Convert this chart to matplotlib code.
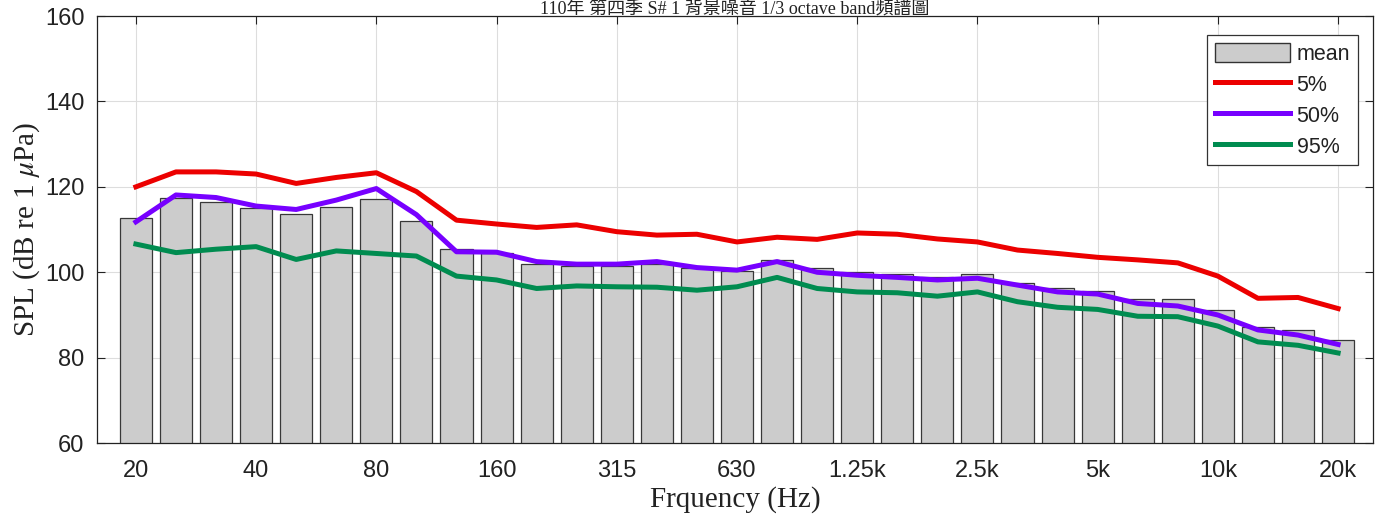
import matplotlib
matplotlib.use("Agg")
import matplotlib.pyplot as plt
from matplotlib.patches import Patch
from matplotlib.lines import Line2D

bands = ['20','25','31.5','40','50','63','80','100','125','160','200','250','315','400','500',
         '630','800','1k','1.25k','1.6k','2k','2.5k','3.15k','4k','5k','6.3k','8k','10k',
         '12.5k','16k','20k']
mean = [112.6,117.3,116.4,115.0,113.7,115.3,117.1,112.0,105.4,104.5,102.0,101.5,101.5,102.0,101.0,
        100.3,102.9,100.9,100.1,99.7,99.0,99.6,97.6,96.2,95.6,93.7,93.7,91.1,87.1,86.5,84.1]
p5 = [120.0,123.5,123.5,123.0,120.8,122.2,123.3,118.9,112.2,111.3,110.5,111.1,109.5,108.7,108.9,
      107.1,108.2,107.7,109.2,108.9,107.8,107.1,105.2,104.4,103.5,102.9,102.2,99.1,93.9,94.1,91.5]
p50 = [111.8,118.1,117.5,115.5,114.7,116.9,119.6,113.5,104.8,104.7,102.5,101.9,101.9,102.5,101.1,
       100.5,102.5,100.0,99.3,98.8,98.2,98.6,97.0,95.4,94.9,92.7,92.1,90.0,86.5,85.3,83.1]
p95 = [106.6,104.6,105.4,106.0,103.0,105.0,104.4,103.8,99.1,98.2,96.2,96.8,96.6,96.5,95.8,
       96.6,98.8,96.2,95.4,95.2,94.4,95.4,93.1,91.8,91.3,89.7,89.6,87.4,83.7,82.9,81.1]
series_labels = ['mean', '5%', '50%', '95%']
title = '110年 第四季 S# 1 背景噪音 1/3 octave band頻譜圖'

plt.rcParams['mathtext.fontset'] = 'stix'

x = list(range(1, len(bands) + 1))

fig = plt.figure(figsize=(13.86, 5.25), dpi=100)
ax = fig.add_axes([0.070, 0.156, 0.9206, 0.8135])

c_bar, c_red, c_pur, c_grn = '#cccccc', '#ec0000', '#7700ff', '#008c50'
ax.bar(x, mean, width=0.8, color=c_bar, edgecolor='#383838', linewidth=0.9, zorder=2)
lw = 3.6
ax.plot(x, p5, color=c_red, lw=lw, zorder=3, solid_joinstyle='round')
ax.plot(x, p50, color=c_pur, lw=lw, zorder=3, solid_joinstyle='round')
ax.plot(x, p95, color=c_grn, lw=lw, zorder=3, solid_joinstyle='round')

ax.set_xlim(0.03, 31.87)
ax.set_ylim(60, 160)
ax.set_yticks([60, 80, 100, 120, 140, 160])
ax.set_xticks(x[::3])
ax.set_xticklabels(bands[::3])
ax.grid(True, color='#dddddd', linewidth=0.8, zorder=0)
ax.set_axisbelow(True)
ax.tick_params(direction='in', top=True, right=True, length=6, width=0.8,
               labelsize=17, colors='#222222')
ax.tick_params(axis='x', pad=12)
ax.tick_params(axis='y', pad=9)
for lab in ax.get_xticklabels() + ax.get_yticklabels():
    lab.set_family(['Liberation Sans', 'DejaVu Sans'])
for s in ax.spines.values():
    s.set_color('#222222')
    s.set_linewidth(0.9)

ax.set_xlabel('Frquency (Hz)', family=['Liberation Serif'], fontsize=21, color='#222222', labelpad=3)
ax.set_ylabel('SPL (dB re 1 $\\mu$Pa)', family=['Liberation Serif'], fontsize=21, color='#222222', labelpad=2)

handles = [Patch(facecolor=c_bar, edgecolor='#333333', linewidth=1.0),
           Line2D([], [], color=c_red, lw=lw),
           Line2D([], [], color=c_pur, lw=lw),
           Line2D([], [], color=c_grn, lw=lw)]
leg = ax.legend(handles, series_labels, loc='upper right',
                bbox_to_anchor=(0.988, 0.9555), fancybox=False, framealpha=1,
                edgecolor='#333333', handlelength=3.5, handleheight=1.0, handletextpad=0.3,
                borderpad=0.35, labelspacing=0.42, borderaxespad=0.0,
                prop={'family': ['Liberation Sans'], 'size': 15.5})
leg.get_frame().set_linewidth(0.9)
for t in leg.get_texts():
    t.set_color('#222222')

ax_center = (0.070 + 0.9206 / 2)
fig.text(ax_center, 1.0, title, ha='center', va='top', fontsize=13,
         family=['Liberation Serif', 'Noto Sans CJK TC'], color='#222222')

fig.savefig('out.png', dpi=100)
